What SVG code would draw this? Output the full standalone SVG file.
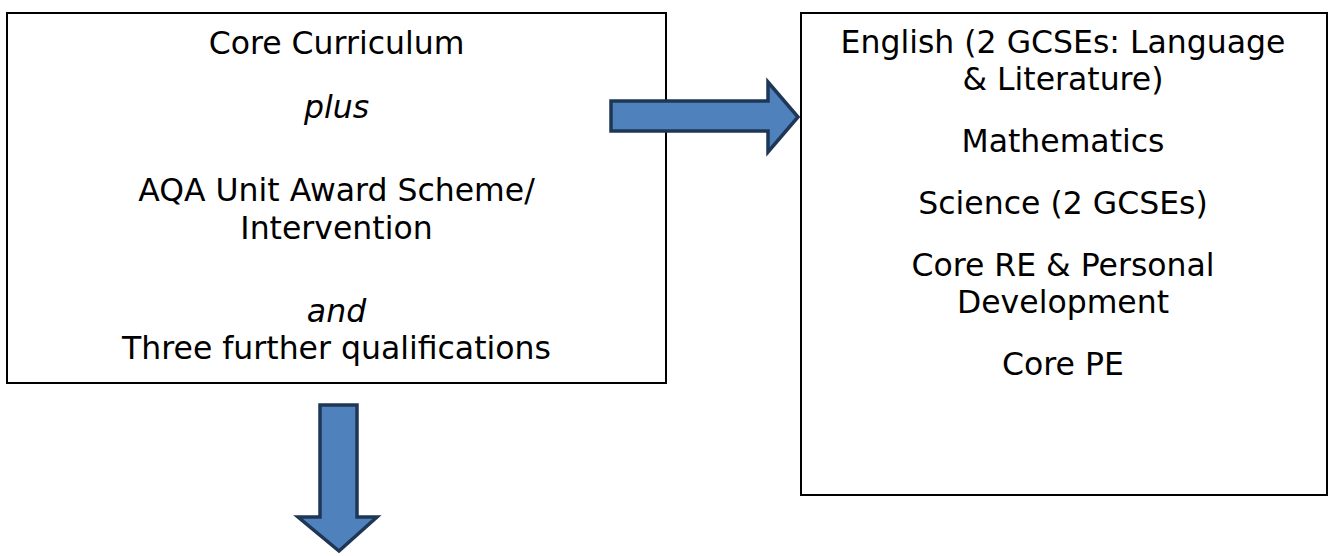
<svg xmlns="http://www.w3.org/2000/svg" width="1331" height="556" viewBox="0 0 1331 556">
<style>
.box{fill:#fff;stroke:#000;stroke-width:2}
.t{font-family:"DejaVu Sans",Verdana,sans-serif;font-size:31.5px;fill:#000;text-anchor:middle}
.i{font-style:italic}
.arr{fill:#4f81bd;stroke:#1f3756;stroke-width:3.5;stroke-linejoin:miter}
</style>
<rect width="1331" height="556" fill="#fff"/>
<g id="core">
<rect class="box" x="7" y="13" width="659" height="370"/>
<text class="t" x="336.5" y="54">Core Curriculum</text>
<text class="t i" x="336.5" y="118">plus</text>
<text class="t" x="336.5" y="201">AQA Unit Award Scheme/</text>
<text class="t" x="336.5" y="239">Intervention</text>
<text class="t i" x="336.5" y="322">and</text>
<text class="t" x="336.5" y="359">Three further qualifications</text>
</g>
<g id="subjects">
<rect class="box" x="801" y="13" width="526" height="482"/>
<text class="t" x="1063" y="53">English (2 GCSEs: Language</text>
<text class="t" x="1063" y="90">&amp; Literature)</text>
<text class="t" x="1063" y="152">Mathematics</text>
<text class="t" x="1063" y="214">Science (2 GCSEs)</text>
<text class="t" x="1063" y="276">Core RE &amp; Personal</text>
<text class="t" x="1063" y="313">Development</text>
<text class="t" x="1063" y="375">Core PE</text>
</g>
<g id="connectors">
<polygon class="arr" points="611,101 768,101 768,82 798,117 768,152 768,131 611,131"/>
<polygon class="arr" points="320,405 357,405 357,517 377,517 339,551 298,517 320,517"/>
</g>
</svg>
